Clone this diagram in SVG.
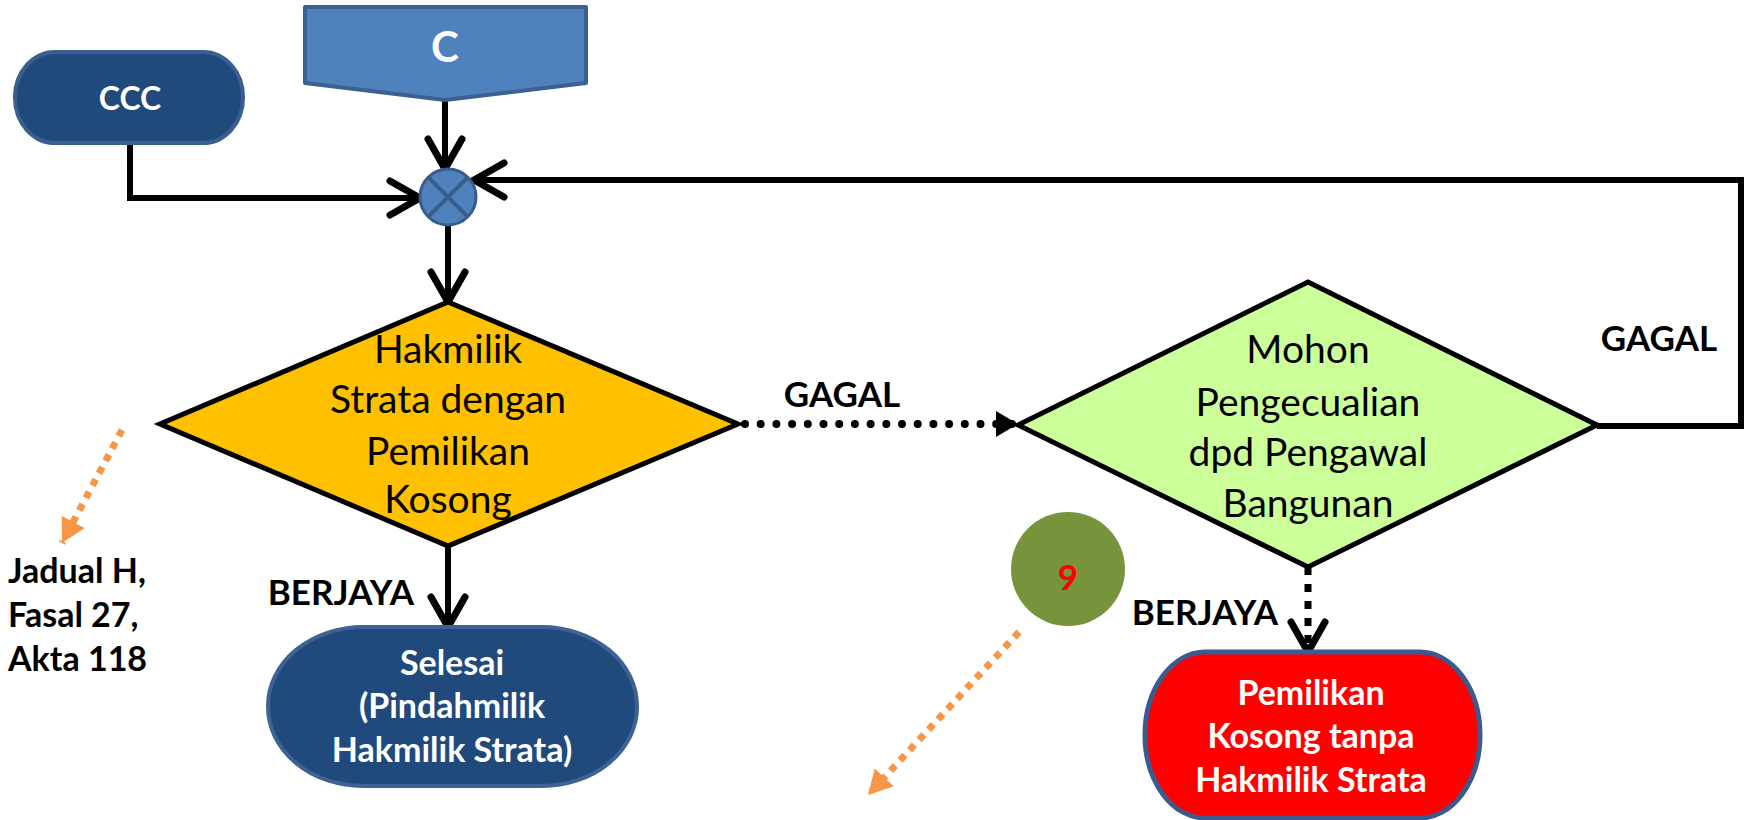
<svg xmlns="http://www.w3.org/2000/svg" width="1750" height="820" viewBox="0 0 1750 820">
<style>
.t{font-family:Lato,"Open Sans","Liberation Sans",sans-serif;text-anchor:middle}
.b{font-weight:700}
.w{fill:#fff}
.k{fill:#000}
.line{fill:none;stroke:#000;stroke-width:6}
.orange{fill:none;stroke:#F79646;stroke-width:7;stroke-dasharray:7 7}
</style>
<defs>
<marker id="v" markerUnits="userSpaceOnUse" markerWidth="42" markerHeight="42" viewBox="0 0 42 42" refX="35" refY="21" orient="auto"><path d="M5 4 L35 21 L5 38" fill="none" stroke="#000" stroke-width="7" stroke-linecap="round"/></marker>
<marker id="tri" markerUnits="userSpaceOnUse" markerWidth="24" markerHeight="28" viewBox="0 0 24 28" refX="22" refY="14" orient="auto"><path d="M0 1 L22 14 L0 27Z" fill="#000"/></marker>
<marker id="otri" markerUnits="userSpaceOnUse" markerWidth="26" markerHeight="28" viewBox="0 0 26 28" refX="24" refY="14" orient="auto"><path d="M0 1 L24 14 L0 27Z" fill="#F79646"/></marker>
</defs>
<rect width="1750" height="820" fill="#fff"/>
<g id="connectors">
<path class="line" d="M445 100 V169" marker-end="url(#v)"/>
<path class="line" d="M130 143 V198 H420" marker-end="url(#v)"/>
<path class="line" d="M448 225 V302" marker-end="url(#v)"/>
<path class="line" d="M448 546 V627" marker-end="url(#v)"/>
<path d="M745 424 H1018" fill="none" stroke="#000" stroke-width="8" stroke-linecap="round" stroke-dasharray="0 15.7" marker-end="url(#tri)"/>
<path d="M1308 567 V652" fill="none" stroke="#000" stroke-width="7" stroke-dasharray="8 9" marker-end="url(#v)"/>
<path class="line" d="M1597 426 H1741 V180 H474" marker-end="url(#v)"/>
<path class="orange" d="M122 430 L62 543" marker-end="url(#otri)"/>
<path class="orange" d="M1019 632 L868 795" marker-end="url(#otri)"/>
</g>
<g id="ccc">
<rect x="15" y="52" width="228" height="91" rx="40" ry="45" fill="#214A7C" stroke="#3A5E8E" stroke-width="4"/>
<text class="t b w" x="130" y="110" font-size="32">CCC</text>
</g>
<g id="c">
<path d="M305 7 H586 V83 L445 100 L305 83Z" fill="#4F81BD" stroke="#3A6190" stroke-width="4" stroke-linejoin="round"/>
<text class="t b w" x="445" y="62" font-size="42">C</text>
</g>
<g id="junction">
<circle cx="448" cy="197" r="28" fill="#4F81BD" stroke="#385D8A" stroke-width="3"/>
<path d="M428 177 L468 217 M468 177 L428 217" stroke="#385D8A" stroke-width="4"/>
</g>
<g id="decision1">
<path d="M448 302 L738 424 L448 546 L160 424Z" fill="#FFC000" stroke="#000" stroke-width="5" stroke-linejoin="miter"/>
<text class="t k" font-size="39"><tspan x="448" y="363">Hakmilik</tspan><tspan x="448" y="413">Strata dengan</tspan><tspan x="448" y="465">Pemilikan</tspan><tspan x="448" y="513">Kosong</tspan></text>
</g>
<g id="decision2">
<path d="M1308 282 L1597 425 L1308 567 L1018 425Z" fill="#CCFF99" stroke="#000" stroke-width="5"/>
<text class="t k" font-size="39"><tspan x="1308" y="363">Mohon</tspan><tspan x="1308" y="416">Pengecualian</tspan><tspan x="1308" y="466">dpd Pengawal</tspan><tspan x="1308" y="517">Bangunan</tspan></text>
</g>
<g id="selesai">
<rect x="268" y="627" width="369" height="159" rx="95" ry="79" fill="#214A7C" stroke="#3E6393" stroke-width="4"/>
<text class="t b w" font-size="34"><tspan x="452" y="675">Selesai</tspan><tspan x="452" y="718">(Pindahmilik</tspan><tspan x="452" y="762">Hakmilik Strata)</tspan></text>
</g>
<g id="pemilikan">
<rect x="1145" y="652" width="335" height="166" rx="60" ry="83" fill="#FF0000" stroke="#3C5A8C" stroke-width="5"/>
<text class="t b w" font-size="34"><tspan x="1311" y="705">Pemilikan</tspan><tspan x="1311" y="748">Kosong tanpa</tspan><tspan x="1311" y="792">Hakmilik Strata</tspan></text>
</g>
<g id="node9">
<circle cx="1068" cy="569" r="57" fill="#77933C"/>
<text class="t b" x="1068" y="590" font-size="35" fill="#FF0000">9</text>
</g>
<g id="labels">
<text class="t b k" x="842" y="407" font-size="35">GAGAL</text>
<text class="t b k" x="1659" y="351" font-size="35">GAGAL</text>
<text class="t b k" x="341" y="605" font-size="35">BERJAYA</text>
<text class="t b k" x="1205" y="625" font-size="35">BERJAYA</text>
<text class="b k" font-family="Lato,'Open Sans','Liberation Sans',sans-serif" font-size="34"><tspan x="8" y="583">Jadual H,</tspan><tspan x="8" y="627">Fasal 27,</tspan><tspan x="8" y="671">Akta 118</tspan></text>
</g>
</svg>
